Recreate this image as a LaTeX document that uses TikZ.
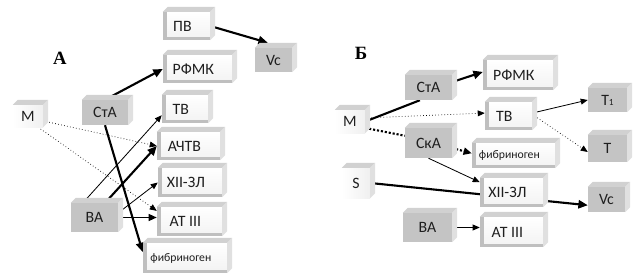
\documentclass[tikz,border=0pt]{standalone}
\usepackage{fontspec}
\setmainfont{Carlito}
\newfontfamily\lblfont{Liberation Serif}
\usetikzlibrary{arrows.meta,backgrounds}

\begin{document}
\begin{tikzpicture}[x=0.03cm, y=-0.03cm]
% coordinates are pixels of the original figure, y counted downwards
\def\px{0.03cm}
\def\dep{0.15cm}
\providecommand{\slabTextColor}{black!88}
\tikzset{
  dims/.style 2 args={minimum width=#1*\px, minimum height=#2*\px},
  slab/.style={inner sep=0pt, font=\fontsize{13.5}{15}\selectfont, text=\slabTextColor},
  fibfont/.style={font=\fontsize{10}{12}\selectfont},
  % white slab with a bevel on the left and bottom edge
  wslab/.style={slab, fill=gray!50, execute at begin node={\hspace*{-7pt}},
    path picture={\shade[top color=white, bottom color=gray!10]
      ([xshift=4*\px]path picture bounding box.north west) rectangle
      ([yshift=4*\px]path picture bounding box.south east);}},
  gslab/.style={slab, fill=gray!46},
  mslab/.style={slab, left color=white, right color=gray!12},
  topface/.style={fill=gray!36},
  sideface/.style={fill=gray!24},
  thickline/.style={line width=1.8pt},
  thickarrow/.style={line width=1.8pt, -{Triangle[length=8pt, width=7pt]}},
  medarrow/.style={line width=1.2pt, -{Triangle[length=7pt, width=6pt]}},
  thinarrow/.style={line width=0.7pt, -{Triangle[length=6pt, width=5pt]}},
  dotarrow/.style={line width=0.6pt, dotted, -{Triangle[length=6pt, width=5pt]}},
  thickdots/.style={line width=1.8pt, dash pattern=on 1.8pt off 1.6pt},
  panellabel/.style={font=\lblfont\bfseries\fontsize{16}{18}\selectfont},
}
\useasboundingbox (0,0) rectangle (638,279);

% Panel A
\node[panellabel] (lblA) at (60,58) {А};
\node[wslab, dims={47}{28}] (pvA) at (186.5,26) {ПВ};
\node[gslab, dims={37}{24}] (vcA) at (273.5,60) {Vc};
\node[wslab, dims={69}{28}] (rfmkA) at (197.5,69) {РФМК};
\node[wslab, dims={46}{28}] (tvA) at (185,109) {ТВ};
\node[wslab, dims={63}{28}] (achtvA) at (188.5,146) {АЧТВ};
\node[wslab, dims={64}{29}] (xiiA) at (190,182.5) {XII-ЗЛ};
\node[wslab, dims={65}{29}] (atA) at (189.5,221.5) {АТ III};
\node[wslab, dims={84}{30}, fibfont] (fibA) at (185,258) {фибриноген};
\node[gslab, dims={47}{29}] (vaA) at (94.5,217.5) {ВА};
\node[gslab, dims={46}{25}] (staA) at (105,112.5) {СтА};
\node[mslab, dims={30}{22}] (mA) at (28,116) {М};

% Panel B
\node[panellabel] (lblB) at (361,53.5) {Б};
\node[gslab, dims={47}{25}] (staB) at (428.5,87.5) {СтА};
\node[wslab, dims={70}{30}] (rfmkB) at (518,75) {РФМК};
\node[mslab, dims={30}{23}] (mB) at (350,121.5) {М};
\node[wslab, dims={47}{28}] (tvB) at (508.5,116) {ТВ};
\node[gslab, dims={39}{24}] (t1B) at (607.5,100) {Т{\fontsize{8}{8}\selectfont 1}};
\node[gslab, dims={39}{27}] (tB) at (607.5,148.5) {Т};
\node[gslab, dims={47}{30}] (skaB) at (428.5,143) {СкА};
\node[wslab, dims={83}{25}, fibfont] (fibB) at (513.5,155.5) {фибриноген};
\node[mslab, dims={28}{30}] (sB) at (356,183) {S};
\node[wslab, dims={63}{29}] (xiiB) at (511.5,192.5) {XII-ЗЛ};
\node[gslab, dims={37}{25}] (vcB) at (606.5,199.5) {Vc};
\node[gslab, dims={49}{29}] (vaB) at (427.5,227.5) {ВА};
\node[wslab, dims={63}{30}] (atB) at (511.5,232) {АТ III};

% top and right faces of every slab
\foreach \n in {pvA,vcA,rfmkA,tvA,achtvA,xiiA,atA,fibA,vaA,staA,mA,
                staB,rfmkB,mB,tvB,t1B,tB,skaB,fibB,sB,xiiB,vcB,vaB,atB} {
  \fill[topface] (\n.north west) -- ++(\dep,\dep) -- ([shift={(\dep,\dep)}]\n.north east) -- (\n.north east) -- cycle;
  \fill[sideface] (\n.north east) -- ++(\dep,\dep) -- ([shift={(\dep,\dep)}]\n.south east) -- (\n.south east) -- cycle;
}

% connectors behind the slabs
\begin{pgfonlayer}{background}
  \draw[thickarrow] (pvA.east) -- ([yshift=\dep]vcA.115);
  \draw[thickarrow] (staA.north) -- (rfmkA.west);
  \draw[thinarrow] (vaA.128) -- (tvA.195);
  \draw[thickarrow] (vaA.54) -- (achtvA.west);
  \draw[thinarrow] (vaA.11) -- (xiiA.west);
  \draw[medarrow] (vaA.east) -- (vaA.east -| atA.west);
  \draw[dotarrow] (mA.342) -- (achtvA.west);
  \draw[dotarrow] (mA.312) -- (atA.162);
  \draw[thickarrow] (staA.south) -- (fibA.172);

  \draw[thickline] (mB.east) -- (staB.236);
  \draw[thickarrow] (staB.13) -- (rfmkB.175);
  \draw[dotarrow] (mB.13) -- (tvB.173);
  \draw[thickdots] (mB.337) -- (skaB.163);
  \draw[thickdots, -{Triangle[length=7pt, width=6pt]}] (skaB.348) -- (fibB.177);
  \draw[thinarrow] (skaB.south) -- (xiiB.162);
  \draw[thinarrow] (tvB.7) -- (t1B.west);
  \draw[dotarrow] (tvB.4) -- (tB.190);
  \draw[thickarrow] (sB.east) -- (vcB.197);
  \draw[thinarrow] (vaB.east) -- (vaB.east -| atB.west);
\end{pgfonlayer}
\end{tikzpicture}
\end{document}
